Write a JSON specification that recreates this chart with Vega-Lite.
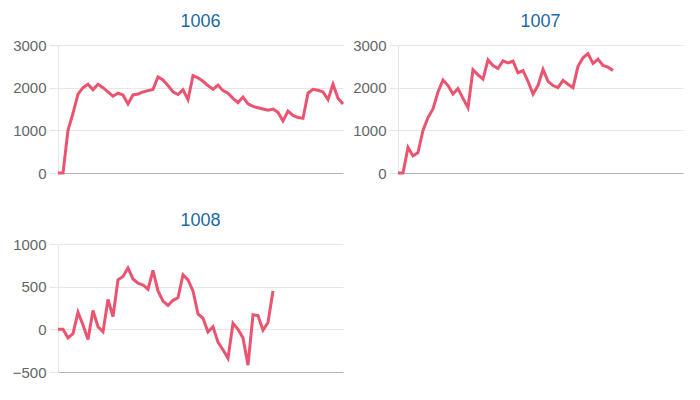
{
  "$schema": "https://vega.github.io/schema/vega-lite/v6.json",
  "padding": {"left": 12, "top": 13, "right": 5, "bottom": 5},
  "background": "white",
  "datasets": {
    "m1006": [
      {"i":0,"v":0},{"i":1,"v":0},{"i":2,"v":1000},{"i":3,"v":1400},{"i":4,"v":1850},{"i":5,"v":2000},{"i":6,"v":2080},{"i":7,"v":1950},{"i":8,"v":2080},{"i":9,"v":2000},
      {"i":10,"v":1900},{"i":11,"v":1800},{"i":12,"v":1870},{"i":13,"v":1830},{"i":14,"v":1620},{"i":15,"v":1830},{"i":16,"v":1850},{"i":17,"v":1900},{"i":18,"v":1930},{"i":19,"v":1960},
      {"i":20,"v":2250},{"i":21,"v":2180},{"i":22,"v":2050},{"i":23,"v":1900},{"i":24,"v":1840},{"i":25,"v":1950},{"i":26,"v":1720},{"i":27,"v":2280},{"i":28,"v":2230},{"i":29,"v":2150},
      {"i":30,"v":2050},{"i":31,"v":1960},{"i":32,"v":2060},{"i":33,"v":1930},{"i":34,"v":1870},{"i":35,"v":1750},{"i":36,"v":1650},{"i":37,"v":1780},{"i":38,"v":1620},{"i":39,"v":1560},
      {"i":40,"v":1530},{"i":41,"v":1500},{"i":42,"v":1470},{"i":43,"v":1500},{"i":44,"v":1420},{"i":45,"v":1220},{"i":46,"v":1450},{"i":47,"v":1350},{"i":48,"v":1300},{"i":49,"v":1280},
      {"i":50,"v":1870},{"i":51,"v":1960},{"i":52,"v":1940},{"i":53,"v":1900},{"i":54,"v":1720},{"i":55,"v":2080},{"i":56,"v":1750},{"i":57,"v":1620}
    ],
    "m1007": [
      {"i":0,"v":0},{"i":1,"v":0},{"i":2,"v":600},{"i":3,"v":400},{"i":4,"v":480},{"i":5,"v":1000},{"i":6,"v":1300},{"i":7,"v":1500},{"i":8,"v":1900},{"i":9,"v":2180},
      {"i":10,"v":2050},{"i":11,"v":1850},{"i":12,"v":1980},{"i":13,"v":1750},{"i":14,"v":1530},{"i":15,"v":2420},{"i":16,"v":2300},{"i":17,"v":2200},{"i":18,"v":2650},{"i":19,"v":2520},
      {"i":20,"v":2450},{"i":21,"v":2630},{"i":22,"v":2580},{"i":23,"v":2620},{"i":24,"v":2350},{"i":25,"v":2400},{"i":26,"v":2150},{"i":27,"v":1850},{"i":28,"v":2050},{"i":29,"v":2430},
      {"i":30,"v":2150},{"i":31,"v":2050},{"i":32,"v":2000},{"i":33,"v":2170},{"i":34,"v":2080},{"i":35,"v":2000},{"i":36,"v":2500},{"i":37,"v":2700},{"i":38,"v":2800},{"i":39,"v":2570},
      {"i":40,"v":2670},{"i":41,"v":2520},{"i":42,"v":2480},{"i":43,"v":2400}
    ],
    "m1008": [
      {"i":0,"v":0},{"i":1,"v":0},{"i":2,"v":-100},{"i":3,"v":-50},{"i":4,"v":200},{"i":5,"v":50},{"i":6,"v":-120},{"i":7,"v":220},{"i":8,"v":30},{"i":9,"v":-30},
      {"i":10,"v":350},{"i":11,"v":150},{"i":12,"v":580},{"i":13,"v":620},{"i":14,"v":720},{"i":15,"v":590},{"i":16,"v":540},{"i":17,"v":520},{"i":18,"v":470},{"i":19,"v":690},
      {"i":20,"v":450},{"i":21,"v":330},{"i":22,"v":280},{"i":23,"v":340},{"i":24,"v":370},{"i":25,"v":640},{"i":26,"v":580},{"i":27,"v":450},{"i":28,"v":180},{"i":29,"v":130},
      {"i":30,"v":-30},{"i":31,"v":30},{"i":32,"v":-150},{"i":33,"v":-240},{"i":34,"v":-340},{"i":35,"v":70},{"i":36,"v":0},{"i":37,"v":-100},{"i":38,"v":-420},{"i":39,"v":170},
      {"i":40,"v":160},{"i":41,"v":-10},{"i":42,"v":80},{"i":43,"v":450}
    ]
  },
  "config": {
    "view": {"stroke": null},
    "font": "Liberation Sans",
    "title": {"font": "Liberation Sans", "fontSize": 18, "fontWeight": "normal", "color": "#1d6aa5", "offset": 7, "anchor": "middle"},
    "axisY": {
      "domain": true, "domainColor": "#e6e6e6", "grid": true, "gridColor": "#e6e6e6",
      "ticks": true, "tickColor": "#e6e6e6", "tickSize": 9, "labelPadding": 3, "format": "d",
      "labelFont": "Liberation Sans", "labelFontSize": 15, "labelColor": "#666666", "title": null
    },
    "axisX": {
      "domain": true, "domainColor": "#b3b3b3", "grid": false, "ticks": false, "labels": false, "title": null
    },
    "line": {"color": "#eb5470", "strokeWidth": 3, "interpolate": "linear"}
  },
  "columns": 2,
  "spacing": {"row": 31, "column": 3},
  "concat": [
    {
      "title": "1006",
      "width": 285, "height": 128,
      "data": {"name": "m1006"},
      "mark": "line",
      "encoding": {
        "x": {"field": "i", "type": "quantitative", "scale": {"domain": [0, 57], "nice": false}},
        "y": {"field": "v", "type": "quantitative", "scale": {"domain": [0, 3000], "nice": false}, "axis": {"values": [0, 1000, 2000, 3000]}}
      }
    },
    {
      "title": "1007",
      "width": 285, "height": 128,
      "data": {"name": "m1007"},
      "mark": "line",
      "encoding": {
        "x": {"field": "i", "type": "quantitative", "scale": {"domain": [0, 57], "nice": false}},
        "y": {"field": "v", "type": "quantitative", "scale": {"domain": [0, 3000], "nice": false}, "axis": {"values": [0, 1000, 2000, 3000]}}
      }
    },
    {
      "title": "1008",
      "width": 285, "height": 128,
      "data": {"name": "m1008"},
      "mark": "line",
      "encoding": {
        "x": {"field": "i", "type": "quantitative", "scale": {"domain": [0, 57], "nice": false}},
        "y": {"field": "v", "type": "quantitative", "scale": {"domain": [-500, 1000], "nice": false}, "axis": {"values": [-500, 0, 500, 1000]}}
      }
    }
  ]
}
